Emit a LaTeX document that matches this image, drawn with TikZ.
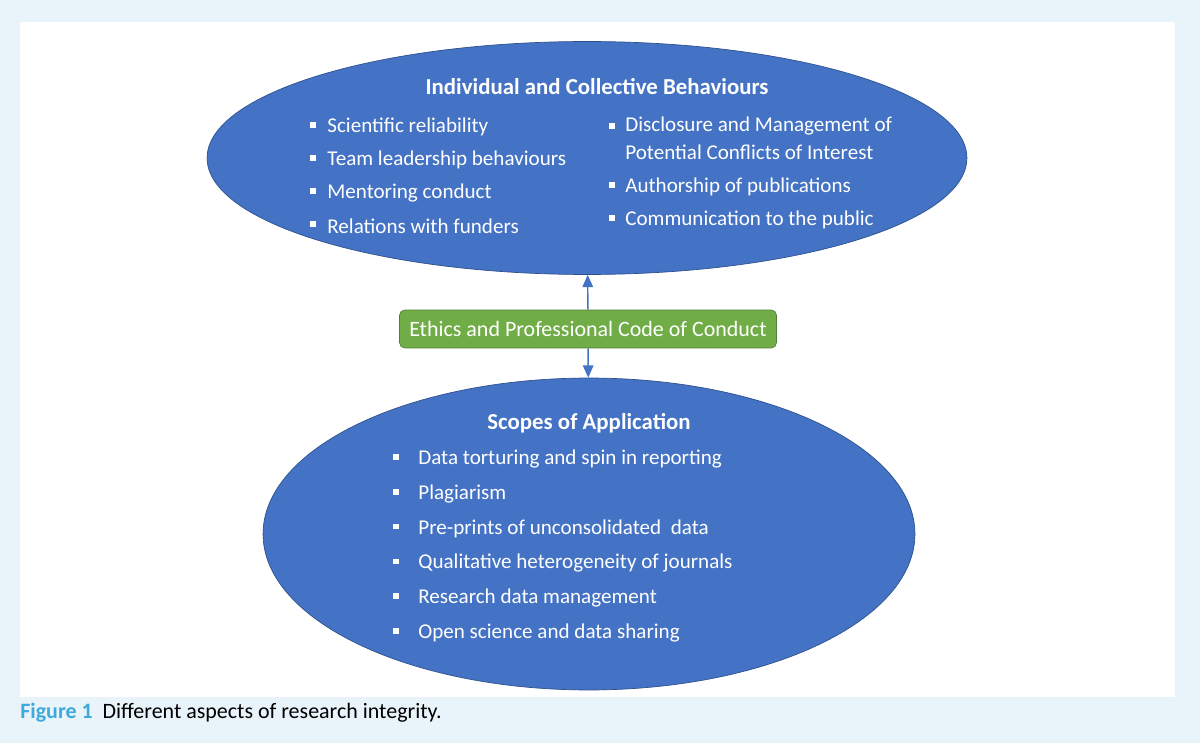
\documentclass[tikz,border=0pt]{standalone}
\usepackage{fontspec}
\setmainfont{Carlito}
\usetikzlibrary{positioning, arrows.meta, shapes.geometric}
\definecolor{ovalblue}{HTML}{4472C4}
\definecolor{ovalline}{HTML}{2F528F}
\definecolor{boxgreen}{HTML}{70AD47}
\definecolor{boxline}{HTML}{507E32}
\definecolor{pageblue}{HTML}{E9F4FA}
\definecolor{figblue}{HTML}{3FA9DC}
\newcommand{\sq}{\rule{0.11cm}{0.11cm}}
\tikzset{
  oval/.style={ellipse, draw=ovalline, fill=ovalblue, inner sep=0pt},
  item/.style={anchor=west, text=white, font=\fontsize{12}{15.5}\selectfont, inner sep=0pt, align=left},
  dot/.style={anchor=center, text=white, inner sep=0pt},
  head/.style={text=white, font=\bfseries\fontsize{13}{15}\selectfont, inner sep=0pt},
  link/.style={draw=ovalblue, thick, -{Triangle[length=7pt,width=6pt]}}
}
\begin{document}
\begin{tikzpicture}[x=0.02cm, y=-0.02cm]
  \useasboundingbox (0,0) rectangle (1200,743);
  \fill[pageblue] (0,0) rectangle (1200,743);
  \fill[white] (20,22) rectangle (1175,697);

  % the two ovals
  \node[oval, minimum width=15.2cm, minimum height=4.66cm] (behav) at (587,158) {};
  \node[oval, minimum width=13.04cm, minimum height=6.24cm] (scope) at (589,534) {};

  % code of conduct box
  \node[draw=boxline, fill=boxgreen, rounded corners=3pt, minimum width=7.54cm,
        minimum height=0.76cm, text=white, font=\fontsize{12.5}{14}\selectfont] (code) at (588,329)
        {Ethics and Professional Code of Conduct};

  \draw[link] (code) -- (behav);
  \draw[link] (code) -- (scope);

  % top oval text
  \node[head] (behavhead) at (597,87) {Individual and Collective Behaviours};
  \foreach \txt [count=\i] in {Scientific reliability, Team leadership behaviours, Mentoring conduct, Relations with funders} {
    \node[dot] (bl\i) at (313,{125+33*(\i-1)}) {\sq};
    \node[item] (tl\i) at (327,{127+33*(\i-1)}) {\txt};
  }
  \node[dot] (br1) at (612,126) {\sq};
  \node[item, anchor=north west] (tr1) at (625,117) {Disclosure and Management of\\Potential Conflicts of Interest};
  \node[dot] (br2) at (612,185) {\sq};
  \node[item] (tr2) at (625,187) {Authorship of publications};
  \node[dot] (br3) at (612,218) {\sq};
  \node[item] (tr3) at (625,220) {Communication to the public};

  % bottom oval text
  \node[head] (scopehead) at (589,423) {Scopes of Application};
  \foreach \txt [count=\i] in {Data torturing and spin in reporting, Plagiarism, Pre-prints of unconsolidated\ \ data, Qualitative heterogeneity of journals, Research data management, Open science and data sharing} {
    \node[dot] (sb\i) at (396,{457+34.8*(\i-1)}) {\sq};
    \node[item] (si\i) at (418,{459+34.8*(\i-1)}) {\txt};
  }

  % caption
  \node[anchor=west, inner sep=0pt, font=\fontsize{12.5}{15}\selectfont] (caption) at (20,713)
    {\textcolor{figblue}{\bfseries Figure 1}\ \ Different aspects of research integrity.};
\end{tikzpicture}
\end{document}
